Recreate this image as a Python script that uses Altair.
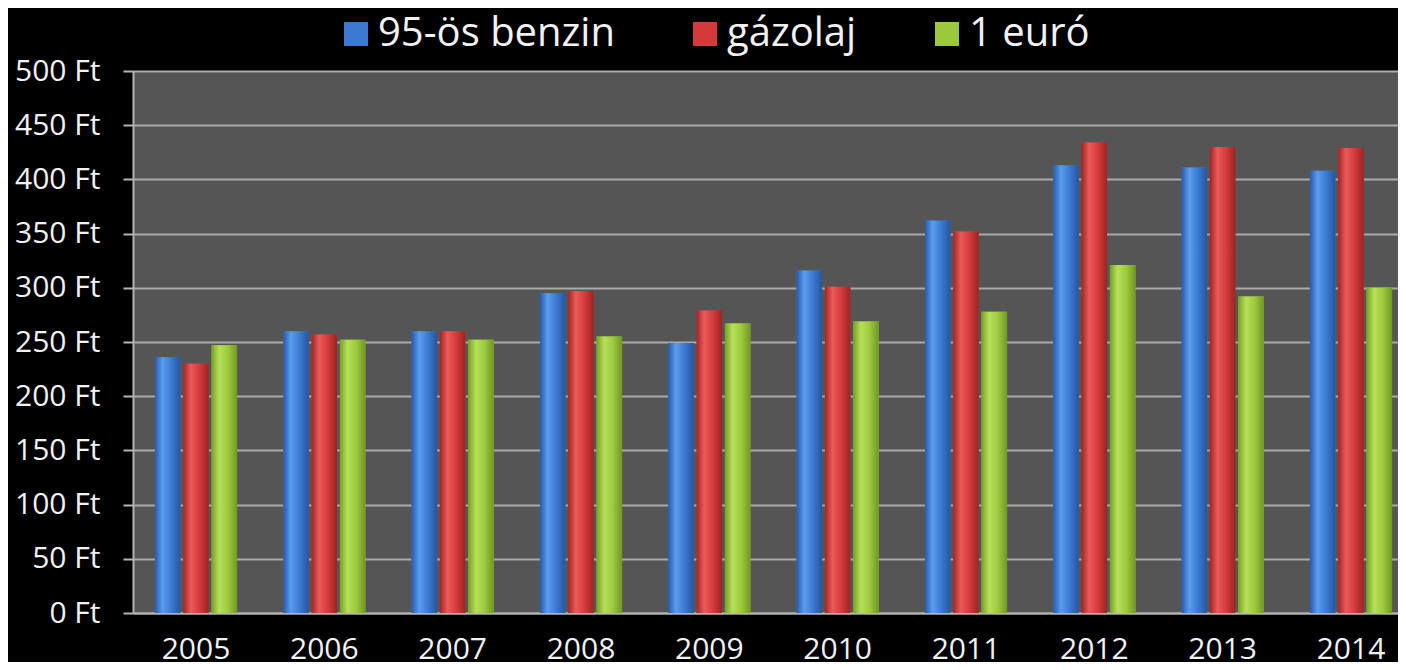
import altair as alt
import pandas as pd

years = ["2005", "2006", "2007", "2008", "2009", "2010", "2011", "2012", "2013", "2014"]
series = ["95-ös benzin", "gázolaj", "1 euró"]
benzin = [236, 260, 260, 295, 249, 316, 362, 413, 411, 408]
gazolaj = [230, 257, 260, 297, 279, 301, 352, 434, 430, 429]
euro = [247, 252, 252, 255, 267, 269, 278, 321, 292, 300]
y_ticks = [0, 50, 100, 150, 200, 250, 300, 350, 400, 450, 500]

base_colors = ["#3b79d2", "#d43a3a", "#9cc93c"]
gradients = {
    "95-ös benzin": ["#2a5aa6", "#5a9cf0", "#3b79d2", "#28559e"],
    "gázolaj": ["#a02626", "#ec5a5a", "#d43a3a", "#9a2424"],
    "1 euró": ["#76a024", "#b6e05a", "#9cc93c", "#6f9822"],
}

rows = []
for s, vals in zip(series, [benzin, gazolaj, euro]):
    for yr, v in zip(years, vals):
        rows.append({"year": yr, "series": s, "value": v})
df = pd.DataFrame(rows)

x_enc = alt.X(
    "year:N",
    sort=years,
    scale=alt.Scale(range=[0, 1281], paddingInner=0.36, paddingOuter=0.171),
    axis=alt.Axis(
        title=None, labelAngle=0, ticks=False, domain=True,
        domainColor="#b4b4b4", domainWidth=2,
        labelColor="#f2f2f2", labelFont="Open Sans", labelFontSize=30,
        labelPadding=21,
    ),
)
xo_enc = alt.XOffset(
    "series:N", sort=series,
    scale=alt.Scale(domain=series, paddingInner=0.1, paddingOuter=0),
)
y_enc = alt.Y(
    "value:Q",
    scale=alt.Scale(domain=[0, 500], nice=False),
    axis=alt.Axis(
        title=None, values=y_ticks, labelExpr="datum.value + ' Ft'",
        grid=True, gridColor="#aaaaaa", gridWidth=2,
        domain=True, domainColor="#b4b4b4", domainWidth=2,
        ticks=True, tickSize=10, tickWidth=2, tickColor="#b4b4b4",
        labelColor="#f2f2f2", labelFont="Open Sans", labelFontSize=30,
        labelPadding=23, labelBaseline="middle",
    ),
)

base = alt.Chart(df).mark_bar().encode(
    x=x_enc,
    xOffset=xo_enc,
    y=y_enc,
    color=alt.Color(
        "series:N", sort=series,
        scale=alt.Scale(domain=series, range=base_colors),
        legend=alt.Legend(
            title=None, orient="none", direction="horizontal",
            legendX=203, legendY=-57, padding=0,
            symbolType="square", symbolSize=576, symbolStrokeWidth=0,
            labelColor="#f2f2f2", labelFont="Open Sans", labelFontSize=40,
            labelOffset=2, columnPadding=70, columns=3, labelLimit=600,
        ),
    ),
)

layers = [base]
for s in series:
    st = gradients[s]
    layers.append(
        alt.Chart(df).transform_filter(alt.datum.series == s).mark_bar(
            color=alt.Gradient(
                gradient="linear", x1=0, x2=1, y1=0, y2=0,
                stops=[
                    alt.GradientStop(color=st[0], offset=0),
                    alt.GradientStop(color=st[1], offset=0.3),
                    alt.GradientStop(color=st[2], offset=0.65),
                    alt.GradientStop(color=st[3], offset=1),
                ],
            )
        ).encode(x=x_enc, xOffset=xo_enc, y=y_enc)
    )

chart = alt.layer(*layers).properties(
    width=1265,
    height=542,
    padding={"left": 125, "top": 63, "right": 0, "bottom": 49},
    autosize=alt.AutoSizeParams(type="none"),
    background="#000000",
).configure_view(fill="#555555", strokeWidth=0)

chart.save("out.html", embed_options={"renderer": "svg", "actions": False})
